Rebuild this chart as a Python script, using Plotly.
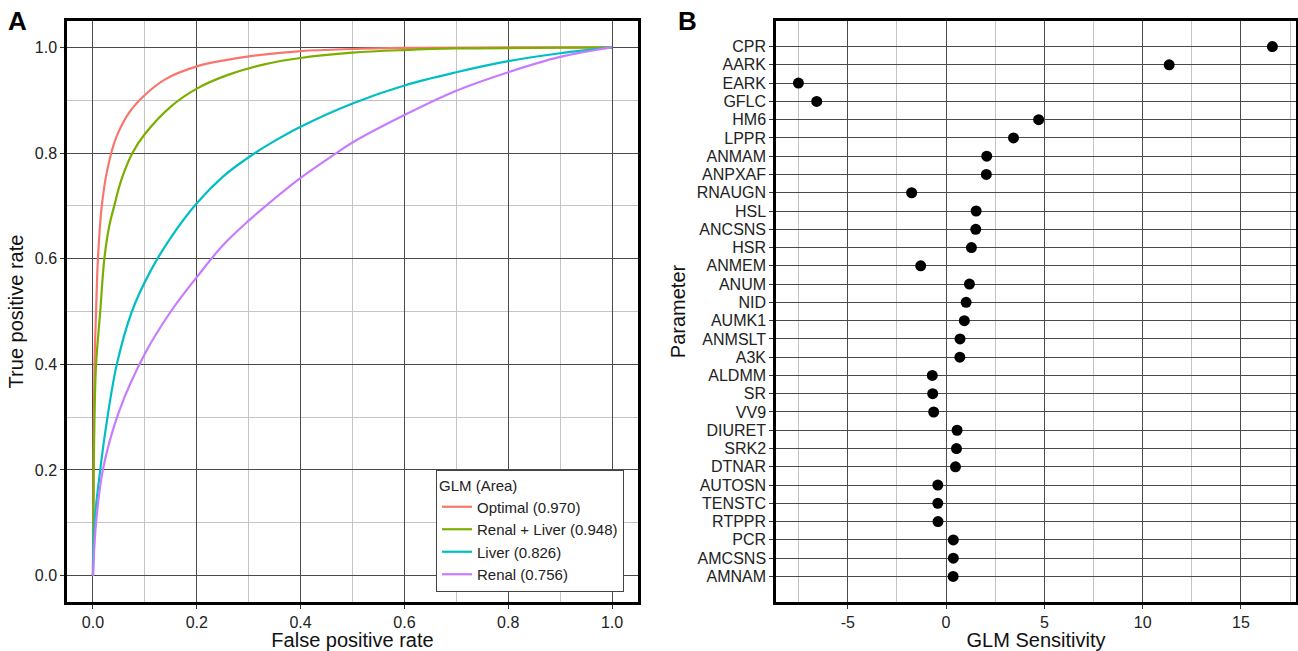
import plotly.graph_objects as go
from plotly.subplots import make_subplots

# ROC curves (false positive rate, true positive rate)
optimal_fpr = [0, 0.001, 0.003, 0.006, 0.0096, 0.017, 0.028, 0.045, 0.07, 0.1, 0.14, 0.2, 0.25, 0.3, 0.4, 0.5, 0.6, 0.8, 1.0]
optimal_tpr = [0, 0.2, 0.4, 0.5, 0.6, 0.7, 0.77, 0.83, 0.877, 0.91, 0.94, 0.964, 0.975, 0.983, 0.993, 0.997, 0.999, 1.0, 1.0]

renal_liver_fpr = [0, 0.003, 0.006, 0.014, 0.022, 0.031, 0.041, 0.055, 0.076, 0.1, 0.15, 0.2, 0.26, 0.33, 0.4, 0.5, 0.6, 0.7, 0.85, 1.0]
renal_liver_tpr = [0, 0.3, 0.4, 0.5, 0.6, 0.66, 0.7, 0.75, 0.8, 0.836, 0.888, 0.922, 0.948, 0.968, 0.98, 0.99, 0.995, 0.998, 0.999, 1.0]

liver_fpr = [0, 0.003, 0.014, 0.028, 0.046, 0.075, 0.11, 0.15, 0.2, 0.25, 0.3, 0.35, 0.4, 0.5, 0.6, 0.7, 0.8, 0.9, 1.0]
liver_tpr = [0, 0.1, 0.2, 0.3, 0.4, 0.5, 0.575, 0.64, 0.705, 0.755, 0.792, 0.823, 0.85, 0.894, 0.928, 0.953, 0.974, 0.989, 1.0]

renal_fpr = [0, 0.006, 0.019, 0.05, 0.1, 0.15, 0.2, 0.25, 0.3, 0.333, 0.4, 0.469, 0.5, 0.6, 0.7, 0.8, 0.9, 1.0]
renal_tpr = [0, 0.1, 0.2, 0.31, 0.42, 0.5, 0.565, 0.625, 0.672, 0.7, 0.753, 0.8, 0.82, 0.872, 0.918, 0.953, 0.982, 1.0]

curve_names = ["Optimal (0.970)", "Renal + Liver (0.948)", "Liver (0.826)", "Renal (0.756)"]
curve_colors = ["#F8766D", "#7CAE00", "#00BFC4", "#C77CFF"]

# panel B: GLM sensitivity per parameter (top to bottom)
params = ["CPR", "AARK", "EARK", "GFLC", "HM6", "LPPR", "ANMAM", "ANPXAF", "RNAUGN", "HSL",
          "ANCSNS", "HSR", "ANMEM", "ANUM", "NID", "AUMK1", "ANMSLT", "A3K", "ALDMM", "SR",
          "VV9", "DIURET", "SRK2", "DTNAR", "AUTOSN", "TENSTC", "RTPPR", "PCR", "AMCSNS", "AMNAM"]
sensitivity = [16.6, 11.35, -7.51, -6.58, 4.71, 3.43, 2.07, 2.05, -1.75, 1.53,
               1.51, 1.29, -1.29, 1.19, 1.02, 0.93, 0.71, 0.70, -0.70, -0.68,
               -0.63, 0.56, 0.53, 0.48, -0.42, -0.42, -0.41, 0.37, 0.37, 0.36]
sens_ticks = [-5, 0, 5, 10, 15]
sens_ticklabels = ["-5", "0", "5", "10", "15"]

W, H = 1298, 651
FONT = "Liberation Sans, Arial, sans-serif"
MAJOR = "#4a4a4a"
MINOR = "#c4c4c4"

fig = make_subplots(rows=1, cols=2)

curves = [(optimal_fpr, optimal_tpr), (renal_liver_fpr, renal_liver_tpr),
          (liver_fpr, liver_tpr), (renal_fpr, renal_tpr)]
for (fx, ty), name, col in zip(curves, curve_names, curve_colors):
    fig.add_trace(go.Scatter(x=fx, y=ty, mode="lines", name=name,
                             line=dict(color=col, width=2.2, shape="spline", smoothing=1.0)),
                  row=1, col=1)

fig.add_trace(go.Scatter(x=sensitivity, y=params, mode="markers", showlegend=False,
                         marker=dict(color="black", size=11)), row=1, col=2)

# domains in pixel terms
def xd(a, b):
    return [a / W, b / W]

ydom = [1 - 602 / H, 1 - 21 / H]

axis_common = dict(showline=True, mirror=True, linecolor="black", linewidth=2.5,
                   ticks="outside", ticklen=4, tickcolor="#333", tickwidth=1,
                   gridcolor=MAJOR, gridwidth=1.2, zeroline=False, automargin=False,
                   tickfont=dict(size=16, color="#222", family=FONT))
title_font = dict(size=20, family=FONT, color="#111")

fig.update_xaxes(domain=xd(67, 638), range=[-0.05, 1.05], dtick=0.2, tickformat=".1f",
                 minor=dict(dtick=0.1, showgrid=True, gridcolor=MINOR, gridwidth=1),
                 title=dict(text="False positive rate", font=title_font, standoff=4),
                 **axis_common, row=1, col=1)
fig.update_yaxes(domain=ydom, range=[-0.05, 1.05], dtick=0.2, tickformat=".1f",
                 minor=dict(dtick=0.1, showgrid=True, gridcolor=MINOR, gridwidth=1),
                 title=dict(text="True positive rate", font=title_font, standoff=6),
                 **axis_common, row=1, col=1)

fig.update_xaxes(domain=xd(776, 1296), range=[-8.65, 17.8],
                 tickmode="array", tickvals=sens_ticks, ticktext=sens_ticklabels,
                 minor=dict(tickmode="array", tickvals=[-7.5, -2.5, 2.5, 7.5, 12.5, 17.5],
                            showgrid=True, gridcolor=MINOR, gridwidth=1, ticks=""),
                 title=dict(text="GLM Sensitivity", font=title_font, standoff=4),
                 **axis_common, row=1, col=2)
fig.update_yaxes(domain=ydom, type="category", categoryorder="array", categoryarray=params,
                 tickmode="array", tickvals=params, ticktext=params,
                 range=[len(params) - 1 + 1.4, -1.4],
                 title=dict(text="Parameter", font=title_font, standoff=6),
                 **axis_common, row=1, col=2)

fig.add_annotation(text="<b>A</b>", x=6 / W, y=1 - 4 / H, xref="paper", yref="paper",
                   xanchor="left", yanchor="top", showarrow=False,
                   font=dict(size=26, family=FONT, color="black"))
fig.add_annotation(text="<b>B</b>", x=676 / W, y=1 - 4 / H, xref="paper", yref="paper",
                   xanchor="left", yanchor="top", showarrow=False,
                   font=dict(size=26, family=FONT, color="black"))

fig.update_layout(
    width=W, height=H,
    margin=dict(l=0, r=0, t=0, b=0, autoexpand=False),
    plot_bgcolor="white", paper_bgcolor="white",
    font=dict(family=FONT, color="#222"),
    legend=dict(title=dict(text="GLM (Area)", font=dict(size=15, family=FONT)),
                font=dict(size=15, family=FONT, color="#222"),
                x=624 / W, y=1 - 592 / H, xanchor="right", yanchor="bottom",
                bgcolor="white", bordercolor="#444", borderwidth=1,
                itemwidth=30, tracegroupgap=0),
)

# the page body has a default 8px margin; drop it so the figure sits at the corner
fig.write_html("out.html", config={"displayModeBar": False},
               post_script="document.body.style.margin = '0';")
